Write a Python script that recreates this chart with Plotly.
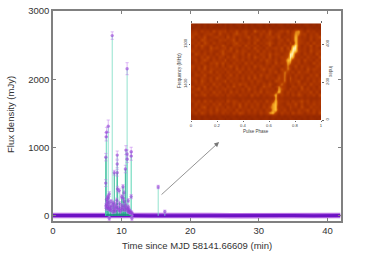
import plotly.graph_objects as go

# Burst pulses: time (min), flux (mJy), error (mJy)
pulse_t = [8.63, 10.8, 8.05, 7.8, 7.75, 7.7, 7.68, 9.36, 9.36, 9.36, 8.93, 10.63, 10.8, 10.8, 10.55,
           11.4, 11.4, 11.4, 10.2, 9.4, 9.65, 8.2, 8.0, 10.35, 10.0, 10.96, 15.33, 16.3, 8.2, 11.5,
           7.8, 7.85, 7.9, 7.95, 8.05, 8.1, 8.15, 8.3, 8.4, 8.45, 8.55, 8.7, 8.8, 8.9, 9.0, 9.1, 9.2,
           9.3, 9.5, 9.6, 9.7, 9.8, 9.9, 10.05, 10.1, 10.25, 10.3, 10.4, 10.45, 10.6, 10.7, 10.85,
           10.9, 11.0, 11.05, 11.1, 11.15, 11.2, 11.3, 11.45, 11.55, 7.72, 7.78, 8.25, 8.75, 9.25]
pulse_f = [2640, 2155, 1314, 1226, 1157, 860, 480, 890, 760, 632, 632, 963, 905, 830, 686,
           940, 875, 282, 428, 393, 370, 320, 280, 340, 280, 223, 423, 60, -40, -40,
           240, 170, 210, 130, 260, 110, 190, 140, 80, 210, 120, 160, 190, 90, 130, 70, 170,
           230, 120, 85, 180, 70, 110, 150, 95, 260, 130, 210, 90, 160, 120, 100,
           75, 130, 60, 90, 55, 70, 45, 50, 30, 150, 110, 95, 60, 120]
pulse_e = [55, 88, 90, 70, 60, 55, 50, 60, 55, 50, 35, 65, 60, 50, 55,
           65, 60, 30, 30, 40, 35, 35, 30, 35, 30, 30, 25, 25, 30, 30,
           40, 30, 35, 30, 35, 30, 30, 30, 25, 30, 30, 30, 30, 25, 30, 25, 30,
           30, 30, 25, 30, 25, 25, 30, 25, 35, 30, 35, 25, 30, 30, 30,
           25, 30, 25, 25, 25, 25, 25, 25, 25, 30, 30, 25, 25, 30]

# Pulses whose stems read darker in the picture
dark_t = [7.7, 9.36, 8.93, 10.55, 7.9, 8.05, 8.4, 8.8, 9.2, 9.3, 9.7, 10.0, 10.2, 10.25, 10.4, 10.6, 10.9, 11.0, 11.2, 11.45]
dark_f = [860, 632, 632, 686, 210, 260, 150, 190, 170, 230, 180, 280, 428, 260, 210, 160, 110, 130, 70, 50]

# Off-burst baseline
base_t = [0, 2.5, 5, 7.5, 8.5, 9.5, 10.5, 11.5, 14, 17, 20, 23, 26, 29, 32, 35, 38, 41.9]
base_f = [4, 6, 3, 5, 6, 4, 5, 6, 3, 5, 4, 6, 3, 5, 4, 6, 3, 5]

# Base of the burst, where the stems pile up
pile_t = [7.7, 8.0, 8.5, 9.0, 9.5, 10.0, 10.5, 11.0, 11.5]
pile_f = [22, 30, 28, 32, 30, 34, 32, 30, 12]

x_ticks = [0, 10, 20, 30, 40]
y_ticks = [0, 1000, 2000, 3000]
phase_ticks = [0, 0.2, 0.4, 0.6, 0.8, 1]
phase_labels = ["0", "0.2", "0.4", "0.6", "0.8", "1"]
freq_ticks = [1300, 1400]
index_ticks = [0, 200, 400]

# Inset dynamic spectrum intensity, top row first (estimated, coarse)
spectrum_rows = [
 "10101011010 10101101010 11010101101 01010110101",
 "01101010101 10110101011 01011010110 10101011010",
 "23142315243 41325134216 32415213425 13673142312",
 "34213342152 23145324132 14235134213 24763413241",
 "41325123423 15241323514 23143425132 24842314235",
 "23154232143 42351421323 51324213415 24843214132",
 "32415314232 13245232415 13245314231 52843241523",
 "14253241325 32143415232 41325123243 37941325143",
 "23142153423 41523132415 23142342515 39932314231",
 "42313242135 23415243132 51423132423 79842315234",
 "15324131425 32143241523 14325243134 99431423152",
 "32142523143 14253132415 32415132435 98323142315",
 "24135314232 51324241323 14253241348 84341523142",
 "13242143525 23142315241 32143152437 63241321524",
 "42315232414 13524132315 24231423136 32514232143",
 "31425143232 42315241423 13524321536 41323152432",
 "23142351423 14232513241 32314251364 24152341323",
 "14325123241 32514132324 15243214362 31423214251",
 "32143241532 14233241515 23142325361 52314142323",
 "24153142323 51423132241 43213154361 42351231424",
 "13242315241 23142534132 31425213631 23142415232",
 "41325132423 14252314324 12534136431 14325132314",
 "23514241323 42313241523 14232317531 42315241323",
 "32142315241 31524132314 25143248414 23142325141",
 "14235132423 14231423152 41323482423 14253132415",
 "21111211121 12211121121 11212172211 21112121112",
 "32415241323 15243132414 23152483323 14235241323",
 "14232314251 32142514232 41323783214 32514132423",
 "23145132423 14231523142 31425782321 42315214232",
 "31423241523 42315132414 23143783241 32142351423",
 "24153142314 23142541323 14237841423 15243132415",
 "01101010110 10110101011 01010110101 10101101010",
 "10101101011 01011010101 10110101010 11010101101",
]
spectrum = [[int(c) for c in row.replace(" ", "")] for row in spectrum_rows]

W, H = 373, 262
dx = lambda a, b: [a / W, b / W]
dy = lambda top, bottom: [1 - bottom / H, 1 - top / H]
FRAME = "#808080"
FONT = "Liberation Sans"

def stems(ts, fs):
    xs, ys = [], []
    for t, f in zip(ts, fs):
        xs += [t, t, None]
        ys += [0, f, None]
    return xs, ys

fig = go.Figure()
fig.add_trace(go.Scatter(x=base_t, y=base_f, mode="lines",
                         line=dict(color="rgba(170,85,222,0.85)", width=5.5), showlegend=False))
fig.add_trace(go.Scatter(x=base_t, y=base_f, mode="lines",
                         line=dict(color="#6d12c4", width=3), showlegend=False))
sx, sy = stems(pulse_t, pulse_f)
fig.add_trace(go.Scatter(x=sx, y=sy, mode="lines", line=dict(color="rgba(120,220,195,0.8)", width=1),
                         showlegend=False))
sx, sy = stems(dark_t, dark_f)
fig.add_trace(go.Scatter(x=sx, y=sy, mode="lines", line=dict(color="rgba(40,175,140,0.75)", width=1),
                         showlegend=False))
fig.add_trace(go.Scatter(x=pile_t, y=pile_f, mode="lines", fill="tozeroy", line=dict(width=0),
                         fillcolor="rgba(25,140,125,0.8)", showlegend=False))
fig.add_trace(go.Scatter(x=pulse_t, y=pulse_f, mode="markers",
                         marker=dict(color="rgba(150,65,215,0.6)", size=3.4, line_width=0),
                         error_y=dict(type="data", array=pulse_e, color="rgba(190,115,238,0.7)",
                                      thickness=0.7, width=1.6),
                         showlegend=False))

fig.add_trace(go.Heatmap(z=spectrum, x0=1 / 88, dx=1 / 44, y0=0, dy=1, xaxis="x2", yaxis="y2",
                         zmin=0, zmax=9, zsmooth="best", showscale=False,
                         colorscale=[[0, "#922600"], [0.11, "#9c2c00"], [0.22, "#a43000"],
                                     [0.33, "#ac3600"], [0.44, "#b43c00"], [0.56, "#c04c04"],
                                     [0.67, "#dc7a12"], [0.78, "#f09a1c"], [0.89, "#ffc238"],
                                     [1, "#fff0b0"]]))
# Carrier for the inset's right-hand index axis
fig.add_trace(go.Scatter(x=[0.5], y=[0], xaxis="x2", yaxis="y3", mode="markers",
                         marker=dict(opacity=0), hoverinfo="skip", showlegend=False))

small = dict(family=FONT, size=4.2, color="#444")
fig.update_layout(
    width=W, height=H, margin=dict(l=0, r=0, t=0, b=0), autosize=False,
    paper_bgcolor="white", plot_bgcolor="white", showlegend=False,
    font=dict(family=FONT, size=9.5, color="#333"),
    xaxis=dict(domain=dx(53, 340.5), range=[0, 41.9], tickvals=x_ticks, ticks="inside", ticklen=3,
               tickcolor=FRAME, showline=True, linecolor=FRAME, linewidth=1.5, mirror="ticks",
               showgrid=False, zeroline=False, automargin=False, tickfont=dict(size=9.5, color="#333")),
    yaxis=dict(domain=dy(11, 221), range=[-75, 3000], tickvals=y_ticks, ticks="inside", ticklen=3,
               tickcolor=FRAME, showline=True, linecolor=FRAME, linewidth=1.5, mirror="ticks",
               showgrid=False, zeroline=False, automargin=False, tickfont=dict(size=9.5, color="#333")),
    xaxis2=dict(domain=dx(191, 321), range=[0, 1], anchor="y2", tickvals=phase_ticks, ticktext=phase_labels,
                ticks="outside", ticklen=1.5, tickcolor="#666", tickfont=small, showgrid=False, zeroline=False,
                automargin=False, showline=True, linecolor="rgba(0,0,0,0)", linewidth=0.5, mirror="ticks"),
    yaxis2=dict(domain=dy(23.3, 120), range=[32.5, -0.5], anchor="x2", showticklabels=False,
                ticks="", showgrid=False, zeroline=False, automargin=False),
    yaxis3=dict(domain=dy(23.3, 120), range=[0, 510], anchor="x2", overlaying="y2", side="right",
                tickvals=index_ticks, tickangle=-90, ticks="outside", ticklen=1.5, tickcolor="#666",
                tickfont=small, showgrid=False, zeroline=False, automargin=False),
    yaxis4=dict(domain=dy(23.3, 120), range=[1490, 1248], anchor="x2", overlaying="y2", side="left",
                tickvals=freq_ticks, tickangle=-90, ticks="outside", ticklen=1.5, tickcolor="#666",
                tickfont=small, showgrid=False, zeroline=False, automargin=False),
)
# Carrier for the inset's left-hand frequency axis
fig.add_trace(go.Scatter(x=[0.5], y=[1300], xaxis="x2", yaxis="y4", mode="markers",
                         marker=dict(opacity=0), hoverinfo="skip", showlegend=False))

def label(text, x, y, size, angle=0, color="#333"):
    fig.add_annotation(text=text, xref="paper", yref="paper", x=x / W, y=1 - y / H, showarrow=False,
                       textangle=angle, font=dict(family=FONT, size=size, color=color),
                       xanchor="center", yanchor="middle")

label("Time since MJD 58141.66609 (min)", 196.5, 245, 9.5)
label("Flux density (mJy)", 10, 115, 9.5, -90)
label("Pulse Phase", 256, 131, 4.5, 0, "#444")
label("Frequency (MHz)", 179, 71, 4.5, -90, "#444")
label("Index", 331, 72, 4.5, 90, "#444")

fig.add_annotation(x=24.2, y=1080, ax=15.6, ay=292, xref="x", yref="y", axref="x", ayref="y",
                   text="", showarrow=True, arrowhead=2, arrowsize=1.2, arrowwidth=0.8, arrowcolor="#777")

fig.write_html("out.html", config=dict(displayModeBar=False),
               post_script="document.body.style.margin='0';document.body.style.overflow='hidden';")
